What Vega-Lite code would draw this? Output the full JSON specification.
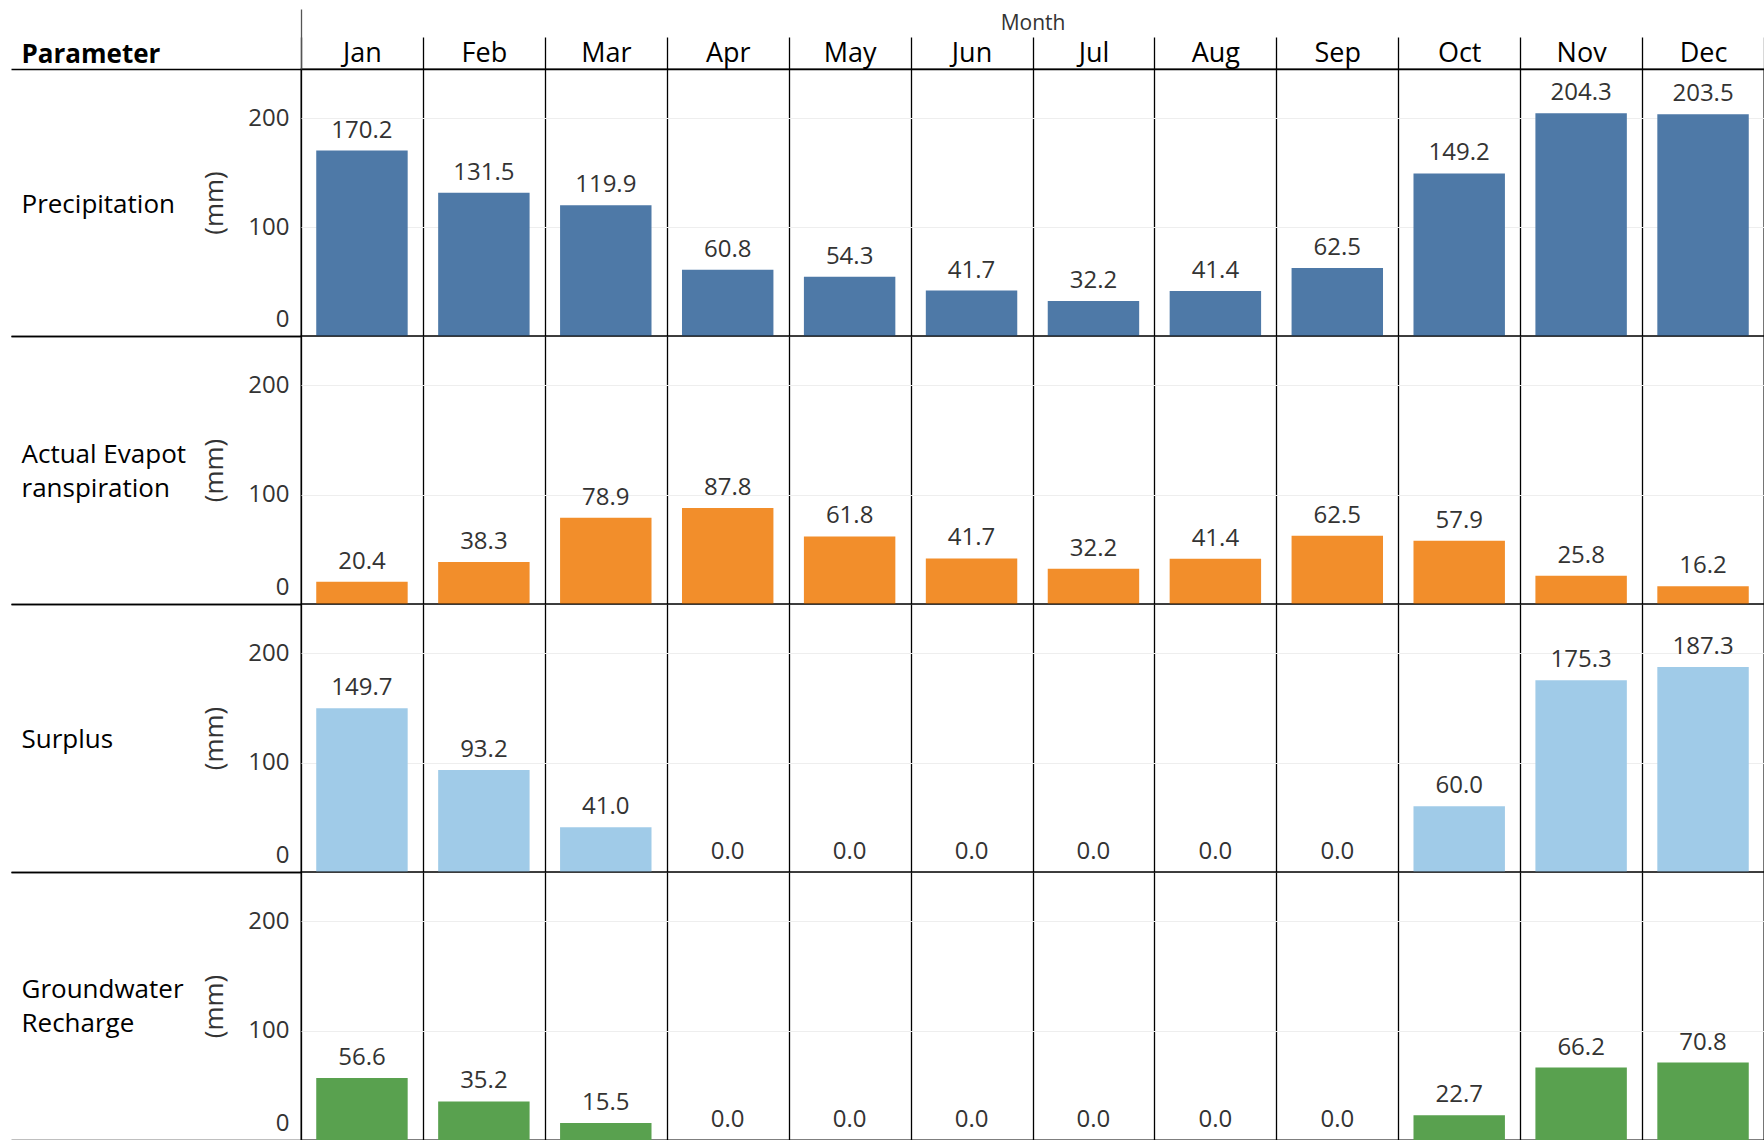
{
  "$schema": "https://vega.github.io/schema/vega-lite/v6.json",
  "padding": {"left": 9, "top": 7, "right": 0, "bottom": 0},
  "spacing": 0,
  "bounds": "flush",
  "config": {
    "font": "Open Sans",
    "view": {"stroke": "black", "strokeWidth": 1.3},
    "concat": {"spacing": 0}
  },
  "data": {"values": [
    {"Parameter": "Precipitation", "Month": "Jan", "Value": 170.2},
    {"Parameter": "Precipitation", "Month": "Feb", "Value": 131.5},
    {"Parameter": "Precipitation", "Month": "Mar", "Value": 119.9},
    {"Parameter": "Precipitation", "Month": "Apr", "Value": 60.8},
    {"Parameter": "Precipitation", "Month": "May", "Value": 54.3},
    {"Parameter": "Precipitation", "Month": "Jun", "Value": 41.7},
    {"Parameter": "Precipitation", "Month": "Jul", "Value": 32.2},
    {"Parameter": "Precipitation", "Month": "Aug", "Value": 41.4},
    {"Parameter": "Precipitation", "Month": "Sep", "Value": 62.5},
    {"Parameter": "Precipitation", "Month": "Oct", "Value": 149.2},
    {"Parameter": "Precipitation", "Month": "Nov", "Value": 204.3},
    {"Parameter": "Precipitation", "Month": "Dec", "Value": 203.5},
    {"Parameter": "Actual Evapotranspiration", "Month": "Jan", "Value": 20.4},
    {"Parameter": "Actual Evapotranspiration", "Month": "Feb", "Value": 38.3},
    {"Parameter": "Actual Evapotranspiration", "Month": "Mar", "Value": 78.9},
    {"Parameter": "Actual Evapotranspiration", "Month": "Apr", "Value": 87.8},
    {"Parameter": "Actual Evapotranspiration", "Month": "May", "Value": 61.8},
    {"Parameter": "Actual Evapotranspiration", "Month": "Jun", "Value": 41.7},
    {"Parameter": "Actual Evapotranspiration", "Month": "Jul", "Value": 32.2},
    {"Parameter": "Actual Evapotranspiration", "Month": "Aug", "Value": 41.4},
    {"Parameter": "Actual Evapotranspiration", "Month": "Sep", "Value": 62.5},
    {"Parameter": "Actual Evapotranspiration", "Month": "Oct", "Value": 57.9},
    {"Parameter": "Actual Evapotranspiration", "Month": "Nov", "Value": 25.8},
    {"Parameter": "Actual Evapotranspiration", "Month": "Dec", "Value": 16.2},
    {"Parameter": "Surplus", "Month": "Jan", "Value": 149.7},
    {"Parameter": "Surplus", "Month": "Feb", "Value": 93.2},
    {"Parameter": "Surplus", "Month": "Mar", "Value": 41.0},
    {"Parameter": "Surplus", "Month": "Apr", "Value": 0.0},
    {"Parameter": "Surplus", "Month": "May", "Value": 0.0},
    {"Parameter": "Surplus", "Month": "Jun", "Value": 0.0},
    {"Parameter": "Surplus", "Month": "Jul", "Value": 0.0},
    {"Parameter": "Surplus", "Month": "Aug", "Value": 0.0},
    {"Parameter": "Surplus", "Month": "Sep", "Value": 0.0},
    {"Parameter": "Surplus", "Month": "Oct", "Value": 60.0},
    {"Parameter": "Surplus", "Month": "Nov", "Value": 175.3},
    {"Parameter": "Surplus", "Month": "Dec", "Value": 187.3},
    {"Parameter": "Groundwater Recharge", "Month": "Jan", "Value": 56.6},
    {"Parameter": "Groundwater Recharge", "Month": "Feb", "Value": 35.2},
    {"Parameter": "Groundwater Recharge", "Month": "Mar", "Value": 15.5},
    {"Parameter": "Groundwater Recharge", "Month": "Apr", "Value": 0.0},
    {"Parameter": "Groundwater Recharge", "Month": "May", "Value": 0.0},
    {"Parameter": "Groundwater Recharge", "Month": "Jun", "Value": 0.0},
    {"Parameter": "Groundwater Recharge", "Month": "Jul", "Value": 0.0},
    {"Parameter": "Groundwater Recharge", "Month": "Aug", "Value": 0.0},
    {"Parameter": "Groundwater Recharge", "Month": "Sep", "Value": 0.0},
    {"Parameter": "Groundwater Recharge", "Month": "Oct", "Value": 22.7},
    {"Parameter": "Groundwater Recharge", "Month": "Nov", "Value": 66.2},
    {"Parameter": "Groundwater Recharge", "Month": "Dec", "Value": 70.8}
  ]},
  "vconcat": [
    {
      "transform": [{"filter": "datum.Parameter == 'Precipitation'"}],
      "width": 1463, "height": 267,
      "layer": [
        {
          "mark": {"type": "bar", "width": {"band": 0.75}, "color": "#4e79a7"},
          "encoding": {
            "x": {"field": "Month", "type": "ordinal", "sort": ["Jan","Feb","Mar","Apr","May","Jun","Jul","Aug","Sep","Oct","Nov","Dec"], "scale": {"paddingInner": 0, "paddingOuter": 0},
              "axis": {"orient": "top", "offset": 0, "title": "Month", "titleFontSize": 21, "titleFontWeight": "normal", "titleColor": "#333333", "titlePadding": 3,
                "labelFontSize": 27, "labelColor": "black", "labelAngle": 0, "labelPadding": -30.3,
                "grid": true, "gridColor": "black", "gridWidth": 1.3, "tickBand": "extent", "tickSize": 32, "tickColor": "black", "tickWidth": 1.3,
                "domain": true, "domainColor": "black", "domainWidth": 1.3}},
            "y": {"field": "Value", "type": "quantitative", "scale": {"domain": [0, 245], "nice": false},
              "axis": {"orient": "left", "offset": 0, "values": [0, 100, 200], "title": "(mm)", "titleX": -87, "titleY": 133.5, "titleAngle": -90, "titleAlign": "center", "titleBaseline": "middle", "titleFontSize": 26, "titleFontWeight": "normal", "titleColor": "#333333",
                "labelFontSize": 24, "labelColor": "#333333", "labelPadding": 12, "labelFlush": true, "labelFlushOffset": -5, "ticks": false, "domain": false, "grid": true, "gridColor": "#eeeeee"}}
          }
        },
        {
          "mark": {"type": "text", "baseline": "bottom", "dy": -8, "fontSize": 24, "color": "#333333"},
          "encoding": {
            "x": {"field": "Month", "type": "ordinal", "sort": ["Jan","Feb","Mar","Apr","May","Jun","Jul","Aug","Sep","Oct","Nov","Dec"],
              "axis": {"orient": "top", "offset": 0, "labels": false, "ticks": true, "tickBand": "extent", "tickSize": 60, "tickWidth": 1.3,
                "tickColor": {"condition": {"test": "datum.extra != null", "value": "#555555"}, "value": "transparent"},
                "domain": false, "grid": false, "title": "Parameter", "titleX": -280, "titleY": -15, "titleAngle": 0, "titleAlign": "left", "titleBaseline": "middle", "titleFontSize": 26, "titleFontWeight": "bold", "titleColor": "black"}},
            "y": {"field": "Value", "type": "quantitative",
              "axis": {"orient": "left", "offset": 0, "values": [0, 245], "labels": false, "domain": false, "grid": false, "tickSize": 290, "tickColor": "black", "tickWidth": 1.3,
                "title": "Precipitation", "titleX": -280, "titleY": 135.5, "titleAngle": 0, "titleAlign": "left", "titleBaseline": "middle", "titleFontSize": 26, "titleFontWeight": "normal", "titleColor": "black", "titleLineHeight": 34}},
            "text": {"field": "Value", "type": "quantitative", "format": ".1f"}
          }
        }
      ],
      "resolve": {"axis": {"x": "independent", "y": "independent"}}
    },
    {
      "transform": [{"filter": "datum.Parameter == 'Actual Evapotranspiration'"}],
      "width": 1463, "height": 268,
      "layer": [
        {
          "mark": {"type": "bar", "width": {"band": 0.75}, "color": "#f28e2b"},
          "encoding": {
            "x": {"field": "Month", "type": "ordinal", "sort": ["Jan","Feb","Mar","Apr","May","Jun","Jul","Aug","Sep","Oct","Nov","Dec"], "scale": {"paddingInner": 0, "paddingOuter": 0},
              "axis": {"orient": "top", "offset": 0, "labels": false, "ticks": false, "domain": false, "title": null, "grid": true, "gridColor": "black", "gridWidth": 1.3, "tickBand": "extent"}},
            "y": {"field": "Value", "type": "quantitative", "scale": {"domain": [0, 245], "nice": false},
              "axis": {"orient": "left", "offset": 0, "values": [0, 100, 200], "title": "(mm)", "titleX": -87, "titleY": 134, "titleAngle": -90, "titleAlign": "center", "titleBaseline": "middle", "titleFontSize": 26, "titleFontWeight": "normal", "titleColor": "#333333",
                "labelFontSize": 24, "labelColor": "#333333", "labelPadding": 12, "labelFlush": true, "labelFlushOffset": -5, "ticks": false, "domain": false, "grid": true, "gridColor": "#eeeeee"}}
          }
        },
        {
          "mark": {"type": "text", "baseline": "bottom", "dy": -8, "fontSize": 24, "color": "#333333"},
          "encoding": {
            "x": {"field": "Month", "type": "ordinal", "sort": ["Jan","Feb","Mar","Apr","May","Jun","Jul","Aug","Sep","Oct","Nov","Dec"], "axis": null},
            "y": {"field": "Value", "type": "quantitative",
              "axis": {"orient": "left", "offset": 0, "values": [0, 245], "labels": false, "domain": false, "grid": false, "tickSize": 290, "tickColor": "black", "tickWidth": 1.3,
                "title": ["Actual Evapot", "ranspiration"], "titleX": -280, "titleY": 118, "titleAngle": 0, "titleAlign": "left", "titleBaseline": "middle", "titleFontSize": 26, "titleFontWeight": "normal", "titleColor": "black", "titleLineHeight": 34}},
            "text": {"field": "Value", "type": "quantitative", "format": ".1f"}
          }
        }
      ],
      "resolve": {"axis": {"x": "independent", "y": "independent"}}
    },
    {
      "transform": [{"filter": "datum.Parameter == 'Surplus'"}],
      "width": 1463, "height": 268,
      "layer": [
        {
          "mark": {"type": "bar", "width": {"band": 0.75}, "color": "#a0cbe8"},
          "encoding": {
            "x": {"field": "Month", "type": "ordinal", "sort": ["Jan","Feb","Mar","Apr","May","Jun","Jul","Aug","Sep","Oct","Nov","Dec"], "scale": {"paddingInner": 0, "paddingOuter": 0},
              "axis": {"orient": "top", "offset": 0, "labels": false, "ticks": false, "domain": false, "title": null, "grid": true, "gridColor": "black", "gridWidth": 1.3, "tickBand": "extent"}},
            "y": {"field": "Value", "type": "quantitative", "scale": {"domain": [0, 245], "nice": false},
              "axis": {"orient": "left", "offset": 0, "values": [0, 100, 200], "title": "(mm)", "titleX": -87, "titleY": 134, "titleAngle": -90, "titleAlign": "center", "titleBaseline": "middle", "titleFontSize": 26, "titleFontWeight": "normal", "titleColor": "#333333",
                "labelFontSize": 24, "labelColor": "#333333", "labelPadding": 12, "labelFlush": true, "labelFlushOffset": -5, "ticks": false, "domain": false, "grid": true, "gridColor": "#eeeeee"}}
          }
        },
        {
          "mark": {"type": "text", "baseline": "bottom", "dy": -8, "fontSize": 24, "color": "#333333"},
          "encoding": {
            "x": {"field": "Month", "type": "ordinal", "sort": ["Jan","Feb","Mar","Apr","May","Jun","Jul","Aug","Sep","Oct","Nov","Dec"], "axis": null},
            "y": {"field": "Value", "type": "quantitative",
              "axis": {"orient": "left", "offset": 0, "values": [0, 245], "labels": false, "domain": false, "grid": false, "tickSize": 290, "tickColor": "black", "tickWidth": 1.3,
                "title": "Surplus", "titleX": -280, "titleY": 135, "titleAngle": 0, "titleAlign": "left", "titleBaseline": "middle", "titleFontSize": 26, "titleFontWeight": "normal", "titleColor": "black", "titleLineHeight": 34}},
            "text": {"field": "Value", "type": "quantitative", "format": ".1f"}
          }
        }
      ],
      "resolve": {"axis": {"x": "independent", "y": "independent"}}
    },
    {
      "transform": [{"filter": "datum.Parameter == 'Groundwater Recharge'"}],
      "width": 1463, "height": 268,
      "layer": [
        {
          "mark": {"type": "bar", "width": {"band": 0.75}, "color": "#59a14f"},
          "encoding": {
            "x": {"field": "Month", "type": "ordinal", "sort": ["Jan","Feb","Mar","Apr","May","Jun","Jul","Aug","Sep","Oct","Nov","Dec"], "scale": {"paddingInner": 0, "paddingOuter": 0},
              "axis": {"orient": "top", "offset": 0, "labels": false, "ticks": false, "domain": false, "title": null, "grid": true, "gridColor": "black", "gridWidth": 1.3, "tickBand": "extent"}},
            "y": {"field": "Value", "type": "quantitative", "scale": {"domain": [0, 245], "nice": false},
              "axis": {"orient": "left", "offset": 0, "values": [0, 100, 200], "title": "(mm)", "titleX": -87, "titleY": 134, "titleAngle": -90, "titleAlign": "center", "titleBaseline": "middle", "titleFontSize": 26, "titleFontWeight": "normal", "titleColor": "#333333",
                "labelFontSize": 24, "labelColor": "#333333", "labelPadding": 12, "labelFlush": true, "labelFlushOffset": -5, "ticks": false, "domain": false, "grid": true, "gridColor": "#eeeeee"}}
          }
        },
        {
          "mark": {"type": "text", "baseline": "bottom", "dy": -8, "fontSize": 24, "color": "#333333"},
          "encoding": {
            "x": {"field": "Month", "type": "ordinal", "sort": ["Jan","Feb","Mar","Apr","May","Jun","Jul","Aug","Sep","Oct","Nov","Dec"], "axis": null},
            "y": {"field": "Value", "type": "quantitative",
              "axis": {"orient": "left", "offset": 0, "values": [0, 245], "labels": false, "domain": false, "grid": false, "tickSize": 290, "tickColor": "black", "tickWidth": 1.3,
                "title": ["Groundwater", "Recharge"], "titleX": -280, "titleY": 117, "titleAngle": 0, "titleAlign": "left", "titleBaseline": "middle", "titleFontSize": 26, "titleFontWeight": "normal", "titleColor": "black", "titleLineHeight": 34}},
            "text": {"field": "Value", "type": "quantitative", "format": ".1f"}
          }
        }
      ],
      "resolve": {"axis": {"x": "independent", "y": "independent"}}
    }
  ]
}
